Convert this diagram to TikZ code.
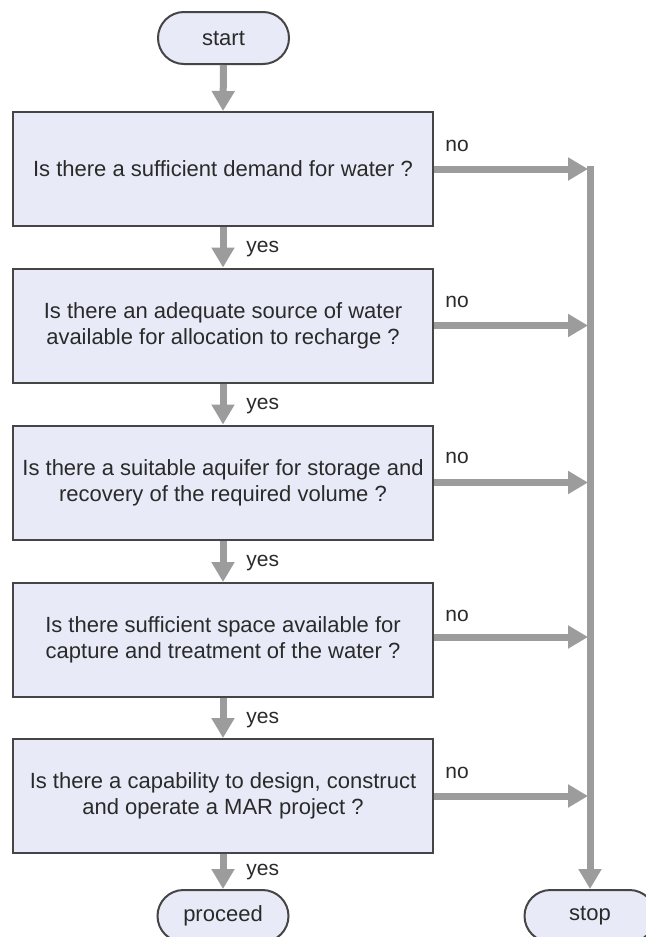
\documentclass[tikz,border=0pt]{standalone}
\usepackage{fontspec}
\setmainfont{Liberation Sans}
\usetikzlibrary{arrows.meta}
\definecolor{boxfill}{HTML}{E8EBF7}
\definecolor{boxline}{HTML}{454545}
\definecolor{arrowgray}{HTML}{9C9C9C}
\definecolor{txt}{HTML}{2A2A2A}
\begin{document}
\begin{tikzpicture}[x=0.5pt,y=-0.5pt,
  qbox/.style={draw=boxline,line width=1pt,fill=boxfill,minimum width=210pt,minimum height=57pt,
    align=center,text=txt,font=\fontsize{11}{13}\selectfont,inner sep=0pt},
  pill/.style={draw=boxline,line width=1pt,fill=boxfill,minimum width=65.5pt,minimum height=26pt,
    rounded corners=13pt,text=txt,font=\fontsize{11}{13}\selectfont,inner sep=0pt},
  flow/.style={draw=arrowgray,line width=3.5pt,-{Triangle[length=10pt,width=11pt]}},
  lbl/.style={font=\fontsize{10.5}{12}\selectfont,text=txt,anchor=west,inner sep=0pt}]
\useasboundingbox (0,0) rectangle (645,937);
\fill[white] (0,0) rectangle (645,937);

\node[pill] (start) at (223.5,38) {start};
\node[qbox] (q1) at (223,169) {Is there a sufficient demand for water ?};
\node[qbox] (q2) at (223,325.5) {Is there an adequate source of water\\available for allocation to recharge ?};
\node[qbox] (q3) at (223,482.5) {Is there a suitable aquifer for storage and\\recovery of the required volume ?};
\node[qbox] (q4) at (223,640) {Is there sufficient space available for\\capture and treatment of the water ?};
\node[qbox] (q5) at (223,796) {Is there a capability to design, construct\\and operate a MAR project ?};
\node[pill] (proceed) at (223,916) {proceed};
\node[pill] (stop) at (590,916) {stop};

\coordinate (top) at (590,166);
\foreach \i/\y in {1/169,2/325.5,3/482.5,4/637,5/796}{
  \coordinate (r\i) at (588,\y);
}

% vertical collector to stop
\draw[flow] (top) -- (stop.north);

% yes arrows
\draw[flow] (start.south) -- (q1.north);
\draw[flow] (q1.south) -- (q2.north);
\draw[flow] (q2.south) -- (q3.north);
\draw[flow] (q3.south) -- (q4.north);
\draw[flow] (q4.south) -- (q5.north);
\draw[flow] (q5.south) -- (proceed.north);

% no arrows
\draw[flow] (q1.east) -- (r1);
\draw[flow] (q2.east) -- (r2);
\draw[flow] (q3.east) -- (r3);
\draw[flow] ([yshift=1.5pt]q4.east) -- (r4);
\draw[flow] (q5.east) -- (r5);

% labels
\node[lbl] (no1) at (445,146) {no};
\node[lbl] (no2) at (445,302) {no};
\node[lbl] (no3) at (445,458) {no};
\node[lbl] (no4) at (445,616) {no};
\node[lbl] (no5) at (445,773) {no};
\node[lbl] (y1) at (246,249) {yes};
\node[lbl] (y2) at (246,406) {yes};
\node[lbl] (y3) at (246,563) {yes};
\node[lbl] (y4) at (246,720) {yes};
\node[lbl] (y5) at (246,872) {yes};
\end{tikzpicture}
\end{document}
